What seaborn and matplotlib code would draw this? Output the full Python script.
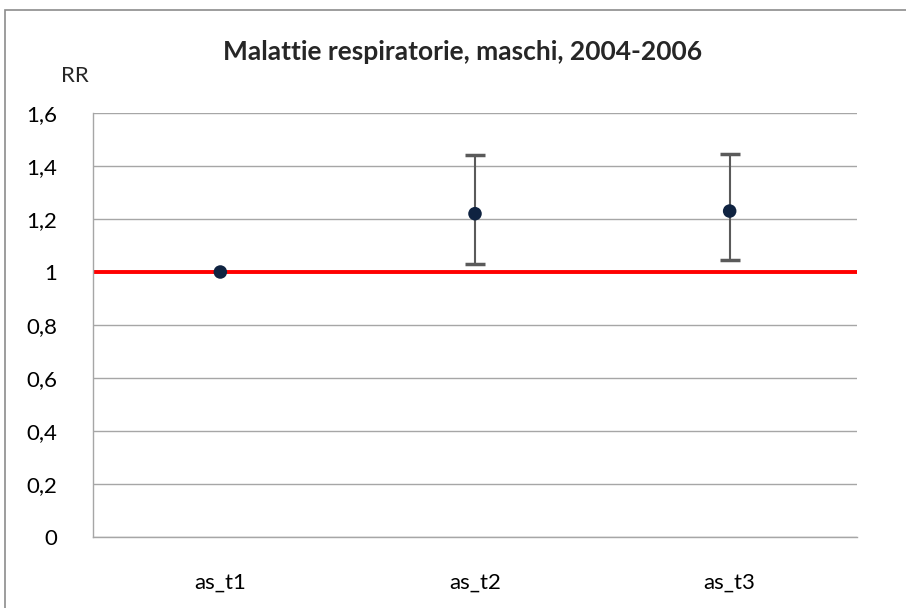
import matplotlib
matplotlib.use("Agg")
import matplotlib.pyplot as plt
from matplotlib.patches import Rectangle
from matplotlib.ticker import FuncFormatter
import seaborn as sns
import pandas as pd

# data
categories = ["as_t1", "as_t2", "as_t3"]
rr = [1.0, 1.22, 1.23]
lower = [1.0, 1.03, 1.045]
upper = [1.0, 1.443, 1.445]
yticks = [0, 0.2, 0.4, 0.6, 0.8, 1.0, 1.2, 1.4, 1.6]

df = pd.DataFrame({"cat": categories, "rr": rr, "lo": lower, "hi": upper})

sns.set_style("white")
plt.rcParams["font.family"] = ["Lato", "DejaVu Sans"]

fig = plt.figure(figsize=(9.06, 6.08), dpi=100)
ax = fig.add_axes([93 / 906, 71 / 608, 764 / 906, 424 / 608])

# outer chart border
fig.patches.append(Rectangle((5 / 906, -0.1), 1.2, (598 / 608) + 0.1,
                             transform=fig.transFigure, fill=False,
                             edgecolor="#8c8c8c", linewidth=1.2))

# points first so the category order follows the list
sns.scatterplot(data=df, x="cat", y="rr", ax=ax, s=95, color="#0f2341",
                edgecolor="none", zorder=4)

ax.set_xlim(-0.5, 2.5)
ax.set_ylim(0, 1.6)
ax.set_yticks(yticks)
ax.yaxis.grid(True, color="#a6a6a6", linewidth=1)
ax.set_axisbelow(True)

ax.axhline(1, color="#ff0000", linewidth=2.8, zorder=2)

has_err = df[df["hi"] > df["lo"]]
eb = ax.errorbar(has_err["cat"], has_err["rr"],
                 yerr=[has_err["rr"] - has_err["lo"], has_err["hi"] - has_err["rr"]],
                 fmt="none", ecolor="#5a5a5a", elinewidth=1.5, capsize=7,
                 capthick=2.5, zorder=3)
for cl in eb[1]:
    cl.set_color("#13294b")

ax.yaxis.set_major_formatter(FuncFormatter(lambda v, p: ("%g" % round(v, 1)).replace(".", ",")))
ax.tick_params(axis="both", length=0, labelsize=16, colors="#000000")
ax.tick_params(axis="x", pad=26)
ax.tick_params(axis="y", pad=26)
ax.set_xlabel("")
ax.set_ylabel("")

for s in ["top", "right"]:
    ax.spines[s].set_visible(False)
for s in ["left", "bottom"]:
    ax.spines[s].set_color("#a6a6a6")
    ax.spines[s].set_linewidth(1)

fig.text(463 / 906, 1 - 52 / 608, "Malattie respiratorie, maschi, 2004-2006",
         ha="center", va="center", fontsize=19, fontweight="bold")
fig.text(75 / 906, 1 - 76 / 608, "RR", ha="center", va="center", fontsize=16)

fig.savefig("out.png", dpi=100)
